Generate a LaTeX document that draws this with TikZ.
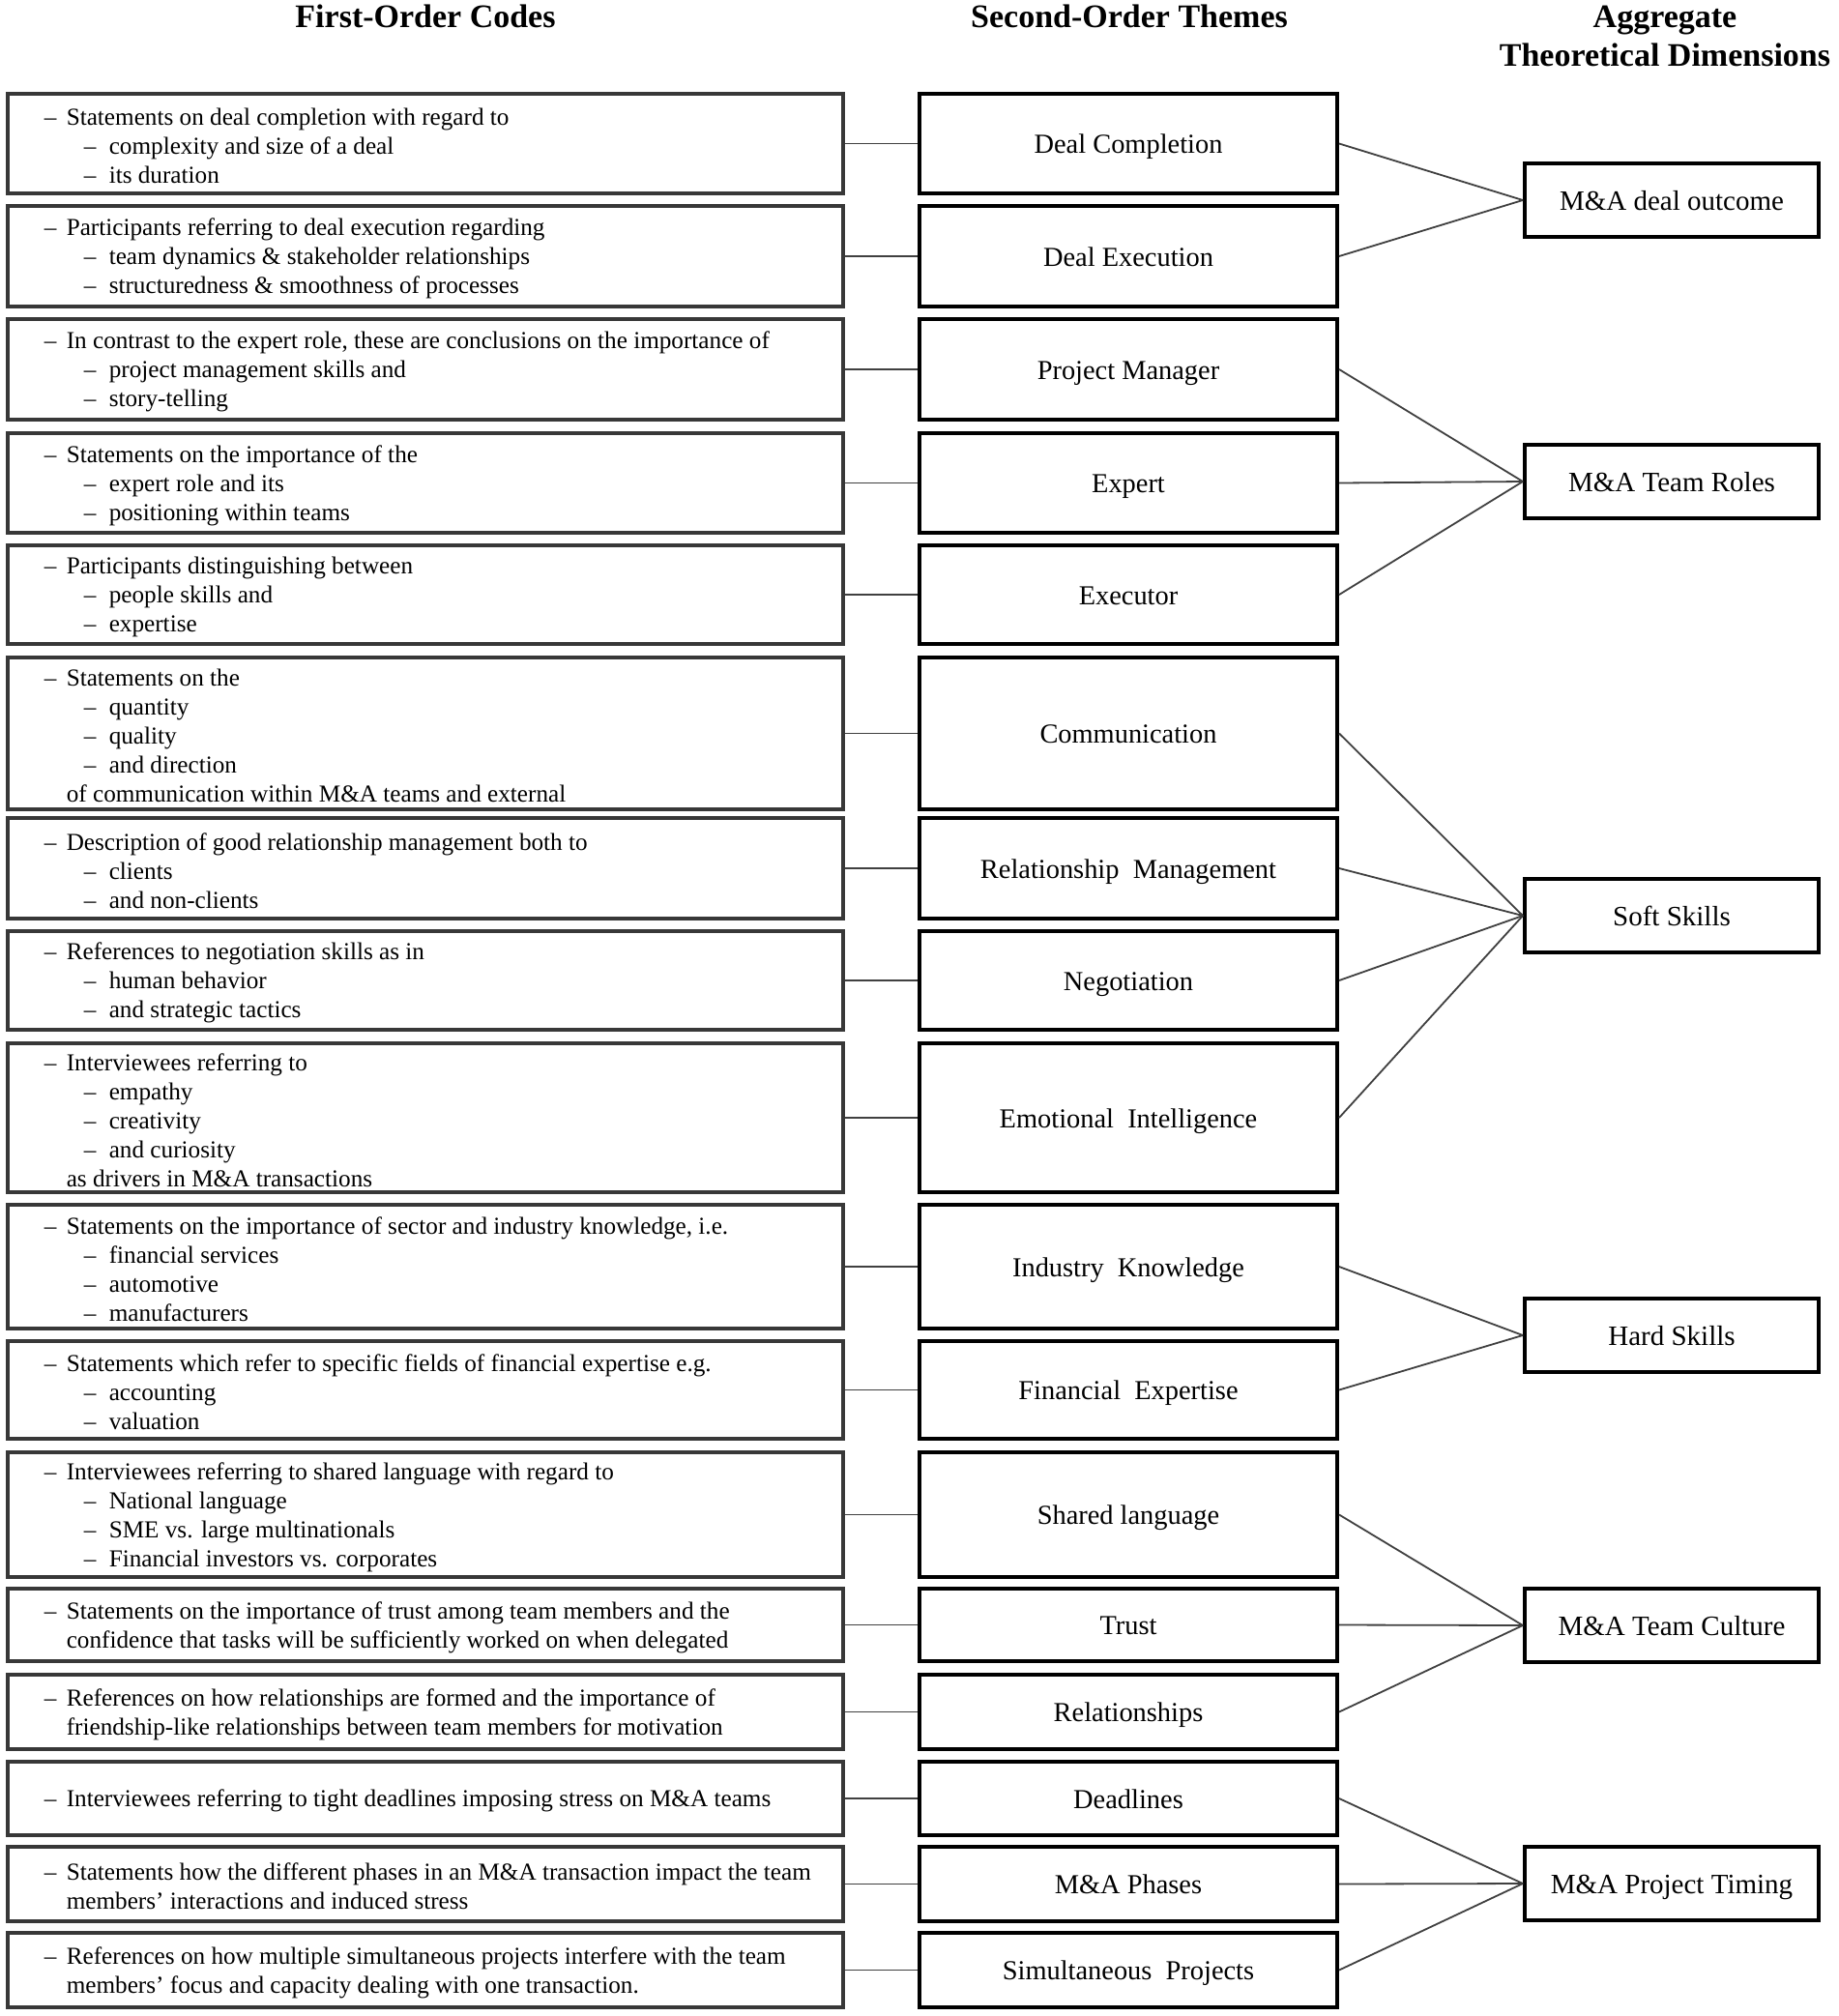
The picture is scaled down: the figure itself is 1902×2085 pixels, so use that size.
\documentclass[tikz,border=0pt]{standalone}
\usepackage{fontspec}
\setmainfont{Liberation Serif}
\newcommand\codeA[1]{\makebox[11.5pt][l]{\textendash}#1}
\newcommand\codeB[1]{\hspace*{20.5pt}\makebox[13pt][l]{\textendash}#1}
\newcommand\codeC[1]{\hspace*{11.5pt}#1}
\begin{document}
\begin{tikzpicture}[x=0.5pt,y=-0.5pt,
  codebox/.style={draw=black!78, line width=1.6pt, minimum width=432pt, inner sep=0pt},
  codetext/.style={anchor=west, align=left, inner sep=0pt, yshift=-1.2pt, font=\fontsize{12.6}{15}\selectfont},
  themebox/.style={draw=black, line width=2pt, minimum width=216pt, inner sep=0pt, text height=12pt, text depth=2pt, font=\fontsize{14.2}{17}\selectfont},
  dimbox/.style={draw=black, line width=2pt, minimum width=152pt, minimum height=38pt, inner sep=0pt, text height=10.5pt, text depth=0.5pt, font=\fontsize{14.5}{17}\selectfont},
  head/.style={font=\bfseries\fontsize{17}{20}\selectfont, align=center, inner sep=0pt},
  link/.style={draw=black!75, line width=0.9pt}]
\useasboundingbox (0,0) rectangle (1902,2085);

% headers
\node[head] (h1) at (440,17) {First-Order Codes};
\node[head] (h2) at (1168,17) {Second-Order Themes};
\node[head] (h3) at (1722,37) {Aggregate\\Theoretical Dimensions};

% aggregate dimensions
\node[dimbox] (d1) at (1729,207) {M\&A deal outcome};
\node[dimbox] (d2) at (1729,498) {M\&A Team Roles};
\node[dimbox] (d3) at (1729,947) {Soft Skills};
\node[dimbox] (d4) at (1729,1381) {Hard Skills};
\node[dimbox] (d5) at (1729,1681) {M\&A Team Culture};
\node[dimbox] (d6) at (1729,1948) {M\&A Project Timing};

% row 1
\node[codebox, minimum height=51.5pt] (c1) at (440,148.5) {};
\node[codetext] (x1) at ([xshift=19.5pt]c1.west) {\codeA{Statements on deal completion with regard to}\\ \codeB{complexity and size of a deal}\\ \codeB{its duration}};
\node[themebox, minimum height=51.5pt] (t1) at (1167,148.5) {Deal Completion};
% row 2
\node[codebox, minimum height=52pt] (c2) at (440,265) {};
\node[codetext] (x2) at ([xshift=19.5pt]c2.west) {\codeA{Participants referring to deal execution regarding}\\ \codeB{team dynamics \& stakeholder relationships}\\ \codeB{structuredness \& smoothness of processes}};
\node[themebox, minimum height=52pt] (t2) at (1167,265) {Deal Execution};
% row 3
\node[codebox, minimum height=52pt] (c3) at (440,382) {};
\node[codetext] (x3) at ([xshift=19.5pt]c3.west) {\codeA{In contrast to the expert role, these are conclusions on the importance of}\\ \codeB{project management skills and}\\ \codeB{story-telling}};
\node[themebox, minimum height=52pt] (t3) at (1167,382) {Project Manager};
% row 4
\node[codebox, minimum height=51.5pt] (c4) at (440,499.5) {};
\node[codetext] (x4) at ([xshift=19.5pt]c4.west) {\codeA{Statements on the importance of the}\\ \codeB{expert role and its}\\ \codeB{positioning within teams}};
\node[themebox, minimum height=51.5pt] (t4) at (1167,499.5) {Expert};
% row 5
\node[codebox, minimum height=51pt] (c5) at (440,615) {};
\node[codetext] (x5) at ([xshift=19.5pt]c5.west) {\codeA{Participants distinguishing between}\\ \codeB{people skills and}\\ \codeB{expertise}};
\node[themebox, minimum height=51pt] (t5) at (1167,615) {Executor};
% row 6
\node[codebox, minimum height=78.5pt] (c6) at (440,758.5) {};
\node[codetext] (x6) at ([xshift=19.5pt]c6.west) {\codeA{Statements on the}\\ \codeB{quantity}\\ \codeB{quality}\\ \codeB{and direction}\\ \codeC{of communication within M\&A teams and external}};
\node[themebox, minimum height=78.5pt] (t6) at (1167,758.5) {Communication};
% row 7
\node[codebox, minimum height=52pt] (c7) at (440,898) {};
\node[codetext] (x7) at ([xshift=19.5pt]c7.west) {\codeA{Description of good relationship management both to}\\ \codeB{clients}\\ \codeB{and non-clients}};
\node[themebox, minimum height=52pt] (t7) at (1167,898) {Relationship\ \ Management};
% row 8
\node[codebox, minimum height=51pt] (c8) at (440,1014) {};
\node[codetext] (x8) at ([xshift=19.5pt]c8.west) {\codeA{References to negotiation skills as in}\\ \codeB{human behavior}\\ \codeB{and strategic tactics}};
\node[themebox, minimum height=51pt] (t8) at (1167,1014) {Negotiation};
% row 9
\node[codebox, minimum height=77pt] (c9) at (440,1156) {};
\node[codetext] (x9) at ([xshift=19.5pt]c9.west) {\codeA{Interviewees referring to}\\ \codeB{empathy}\\ \codeB{creativity}\\ \codeB{and curiosity}\\ \codeC{as drivers in M\&A transactions}};
\node[themebox, minimum height=77pt] (t9) at (1167,1156) {Emotional\ \ Intelligence};
% row 10
\node[codebox, minimum height=64pt] (c10) at (440,1310) {};
\node[codetext] (x10) at ([xshift=19.5pt]c10.west) {\codeA{Statements on the importance of sector and industry knowledge, i.e.}\\ \codeB{financial services}\\ \codeB{automotive}\\ \codeB{manufacturers}};
\node[themebox, minimum height=64pt] (t10) at (1167,1310) {Industry\ \ Knowledge};
% row 11
\node[codebox, minimum height=50.5pt] (c11) at (440,1437.5) {};
\node[codetext] (x11) at ([xshift=19.5pt]c11.west) {\codeA{Statements which refer to specific fields of financial expertise e.g.}\\ \codeB{accounting}\\ \codeB{valuation}};
\node[themebox, minimum height=50.5pt] (t11) at (1167,1437.5) {Financial\ \ Expertise};
% row 12
\node[codebox, minimum height=64.5pt] (c12) at (440,1566.5) {};
\node[codetext] (x12) at ([xshift=19.5pt]c12.west) {\codeA{Interviewees referring to shared language with regard to}\\ \codeB{National language}\\ \codeB{SME vs. large multinationals}\\ \codeB{Financial investors vs. corporates}};
\node[themebox, minimum height=64.5pt] (t12) at (1167,1566.5) {Shared language};
% row 13
\node[codebox, minimum height=37.5pt] (c13) at (440,1680.5) {};
\node[codetext] (x13) at ([xshift=19.5pt]c13.west) {\codeA{Statements on the importance of trust among team members and the}\\ \codeC{confidence that tasks will be sufficiently worked on when delegated}};
\node[themebox, minimum height=37.5pt] (t13) at (1167,1680.5) {Trust};
% row 14
\node[codebox, minimum height=38.5pt] (c14) at (440,1770.5) {};
\node[codetext] (x14) at ([xshift=19.5pt]c14.west) {\codeA{References on how relationships are formed and the importance of}\\ \codeC{friendship-like relationships between team members for motivation}};
\node[themebox, minimum height=38.5pt] (t14) at (1167,1770.5) {Relationships};
% row 15
\node[codebox, minimum height=38pt] (c15) at (440,1860) {};
\node[codetext] (x15) at ([xshift=19.5pt]c15.west) {\codeA{Interviewees referring to tight deadlines imposing stress on M\&A teams}};
\node[themebox, minimum height=38pt] (t15) at (1167,1860) {Deadlines};
% row 16
\node[codebox, minimum height=38.5pt] (c16) at (440,1948.5) {};
\node[codetext] (x16) at ([xshift=19.5pt]c16.west) {\codeA{Statements how the different phases in an M\&A transaction impact the team}\\ \codeC{members’ interactions and induced stress}};
\node[themebox, minimum height=38.5pt] (t16) at (1167,1948.5) {M\&A Phases};
% row 17
\node[codebox, minimum height=38.5pt] (c17) at (440,2037.5) {};
\node[codetext] (x17) at ([xshift=19.5pt]c17.west) {\codeA{References on how multiple simultaneous projects interfere with the team}\\ \codeC{members’ focus and capacity dealing with one transaction.}};
\node[themebox, minimum height=38.5pt] (t17) at (1167,2037.5) {Simultaneous\ \ Projects};

% code -> theme links
\foreach \i in {1,...,17} {\draw[link] (c\i.east) -- (t\i.west);}

% theme -> dimension links
\foreach \i in {1,2} {\draw[link] (t\i.east) -- (d1.west);}
\foreach \i in {3,4,5} {\draw[link] (t\i.east) -- (d2.west);}
\foreach \i in {6,7,8,9} {\draw[link] (t\i.east) -- (d3.west);}
\foreach \i in {10,11} {\draw[link] (t\i.east) -- (d4.west);}
\foreach \i in {12,13,14} {\draw[link] (t\i.east) -- (d5.west);}
\foreach \i in {15,16,17} {\draw[link] (t\i.east) -- (d6.west);}
\end{tikzpicture}
\end{document}
